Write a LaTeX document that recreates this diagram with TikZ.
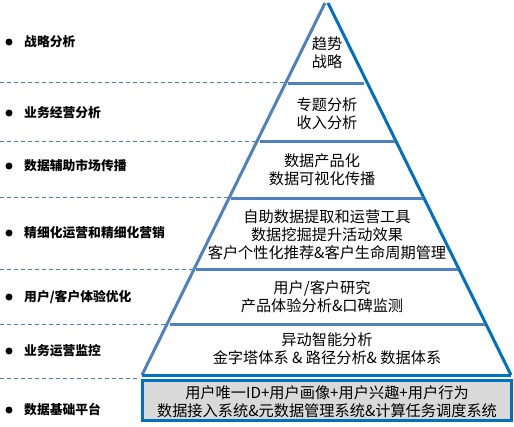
\documentclass[tikz,border=0pt]{standalone}
\usepackage{fontspec}
\newfontfamily\cjk{Noto Sans CJK SC}
\definecolor{sepblue}{RGB}{79,129,189}
\definecolor{edgeblue}{RGB}{0,112,192}
\definecolor{boxgray}{RGB}{217,217,217}
\tikzset{
  lbl/.style = {anchor=west, inner sep=0pt, text=black,
    font=\cjk\bfseries\fontsize{12.8pt}{15pt}\selectfont},
  dot/.style = {circle, fill=black, inner sep=0pt, minimum size=7pt},
  txt/.style = {align=center, inner sep=0pt, text=black,
    font=\cjk\fontsize{15.2pt}{18pt}\selectfont},
  sep/.style = {draw=sepblue, line width=3pt},
  edgl/.style = {draw=sepblue, line width=3pt},
  edgr/.style = {draw=edgeblue, line width=3pt},
  dsh/.style = {draw=sepblue, line width=0.8pt, dash pattern=on 4pt off 3pt},
  basebox/.style = {draw=edgeblue, fill=boxgray, line width=3pt}
}

\begin{document}
\begin{tikzpicture}[x=1pt, y=-1pt]
  \useasboundingbox (0,0) rectangle (514,426);

  % dashed guides on the left
  \foreach \y/\x in {82/286, 141/257, 197/230, 269/194, 324/167, 378/140}
    \draw [dsh] (0,\y) -- (\x,\y);

  % bottom platform
  \draw [basebox] (142.5,380.5) rectangle (511.5,420.5);

  % pyramid outline
  \coordinate (apexL) at (325,3);
  \coordinate (apexR) at (328,3);
  \coordinate (baseL) at (142,375);
  \coordinate (baseR) at (511,375);
  \draw [edgl] (apexL) -- (baseL);
  \draw [edgr] (apexR) -- (baseR);
  \draw [edgr] (baseL) -- (baseR);

  % layer separators
  \foreach \y/\xa/\xb in {83/288/364, 141/260/395, 198/231/423, 269/196/458, 324/170/485}
    \draw [sep] (\xa,\y) -- (\xb,\y);

  % pyramid texts
  \node [txt] (lay1) at (327,53) {趋势\\战略};
  \node [txt] (lay2) at (327,114) {专题分析\\收入分析};
  \node [txt] (lay3) at (322,170) {数据产品化\\数据可视化传播};
  \node [txt] (lay4) at (327,235) {自助数据提取和运营工具\\数据挖掘提升活动效果\\客户个性化推荐\&客户生命周期管理};
  \node [txt] (lay5) at (322,297) {用户/客户研究\\产品体验分析\&口碑监测};
  \node [txt] (lay6) at (327,349) {异动智能分析\\金字塔体系 \& 路径分析\& 数据体系};
  \node [txt] (lay7) at (327,402) {用户唯一ID+用户画像+用户兴趣+用户行为\\数据接入系统\&元数据管理系统\&计算任务调度系统};

  % left labels
  \node [lbl] (lab1) at (24,42) {战略分析};
  \node [lbl] (lab2) at (24,113) {业务经营分析};
  \node [lbl] (lab3) at (24,166) {数据辅助市场传播};
  \node [lbl] (lab4) at (24,233) {精细化运营和精细化营销};
  \node [lbl] (lab5) at (24,297) {用户/客户体验优化};
  \node [lbl] (lab6) at (24,351) {业务运营监控};
  \node [lbl] (lab7) at (24,410) {数据基础平台};
  \foreach \i in {1,...,7}
    \node [dot, xshift=-15pt] (dot\i) at (lab\i.west) {};
\end{tikzpicture}
\end{document}
